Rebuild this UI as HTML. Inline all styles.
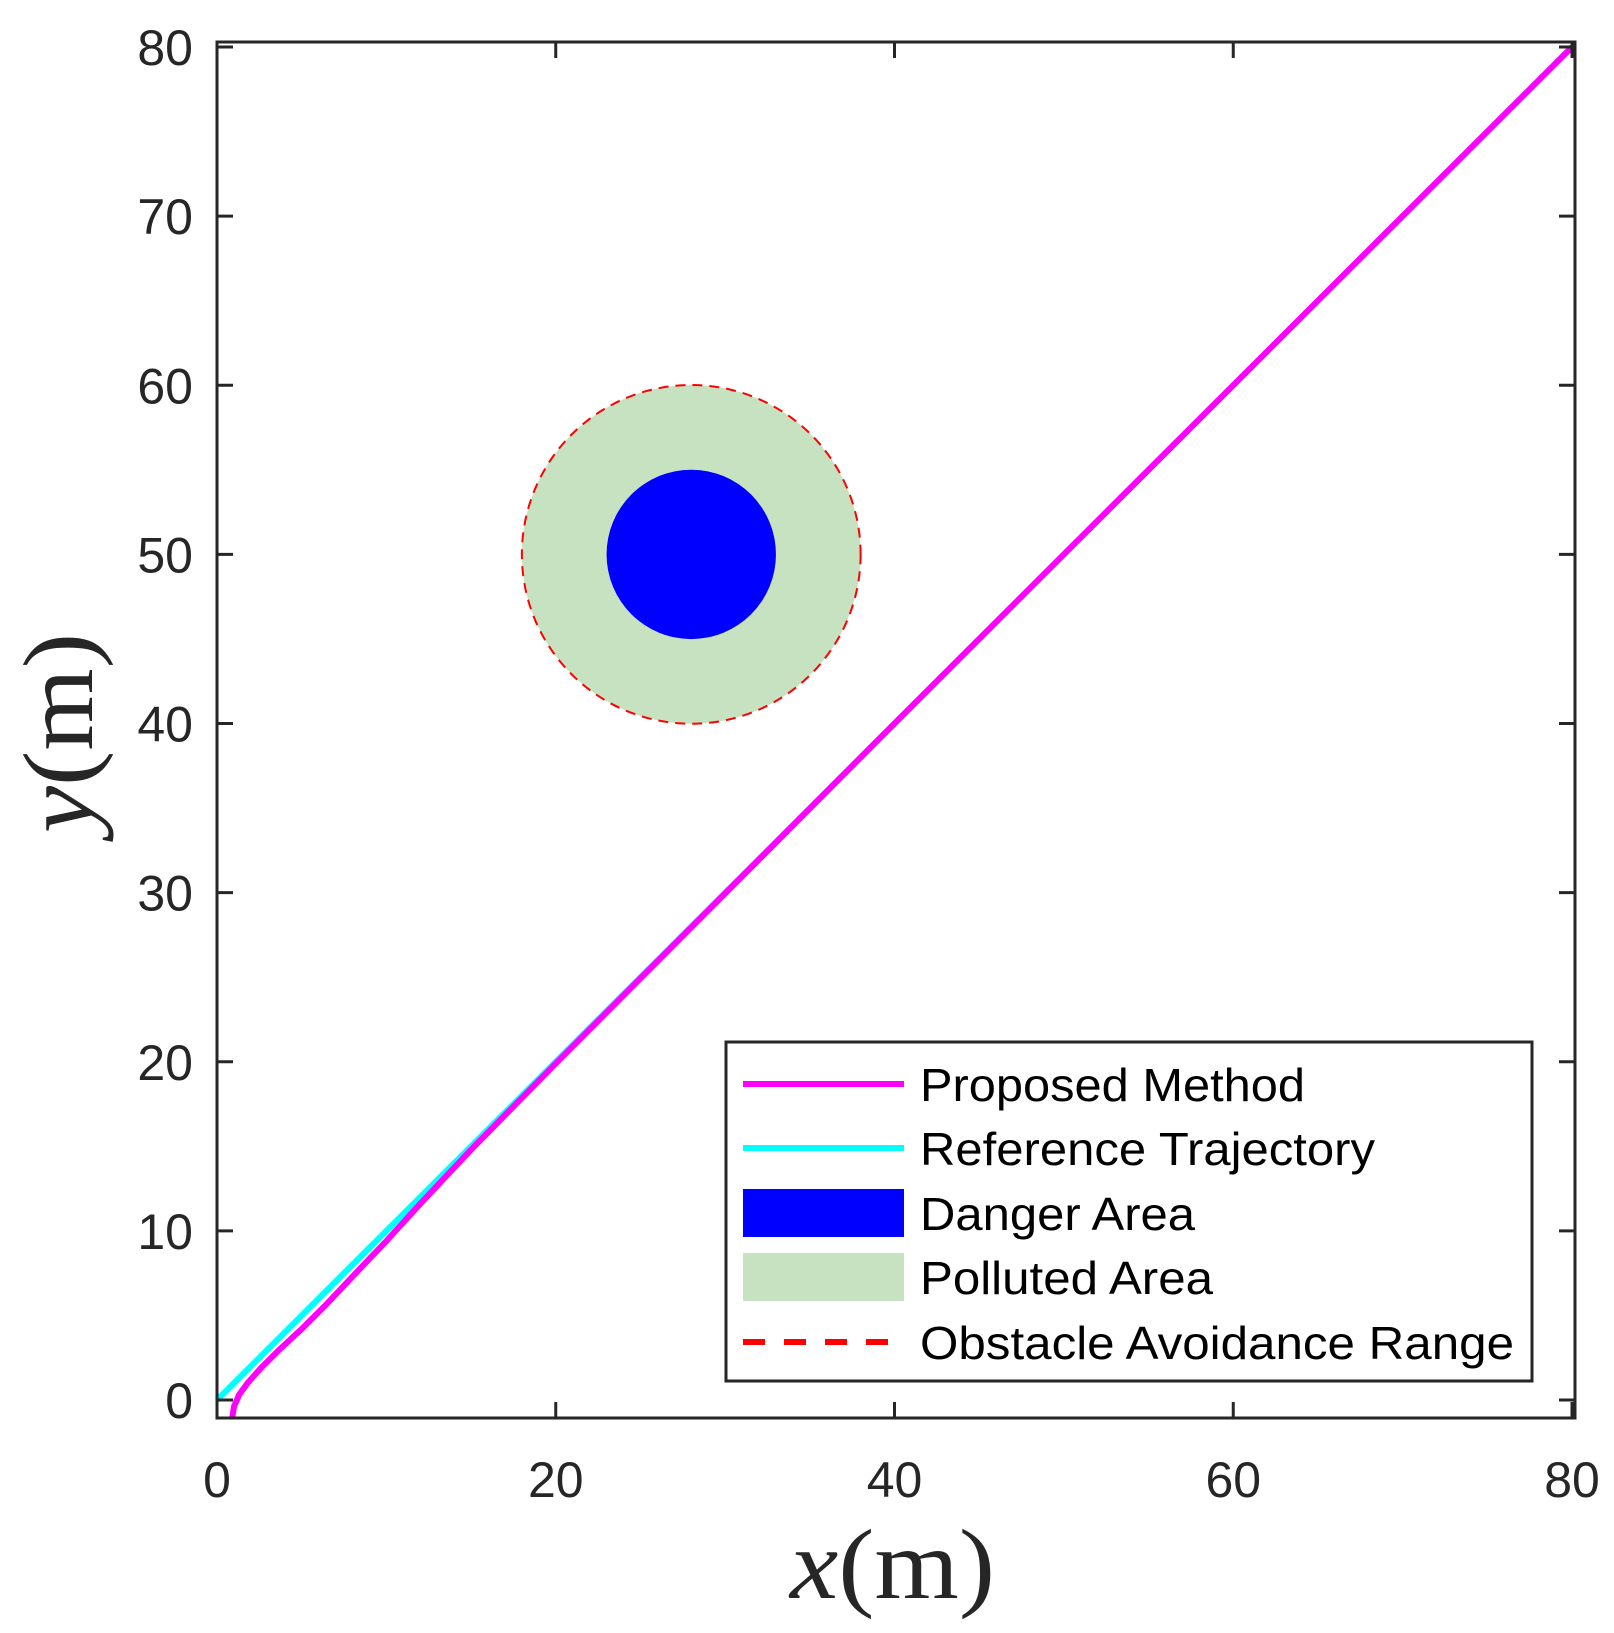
<!DOCTYPE html>
<html><head><meta charset="utf-8"><style>
html,body{margin:0;padding:0;background:#fff;}
svg{display:block;}
text{font-family:"Liberation Sans",sans-serif;fill:#262626;}
text.serif{font-family:"Liberation Serif","DejaVu Serif",serif;}
</style></head><body>
<svg id="chart" width="1614" height="1633" viewBox="0 0 1614 1633" xmlns="http://www.w3.org/2000/svg">
<g id="plot"></g>
</svg>
<script>
const xTicks=[0,20,40,60,80];
const yTicks=[0,10,20,30,40,50,60,70,80];
const refX=[0,80];
const refY=[0,80];
const propX=[0.9,1.0,1.3,1.8,2.6,3.6,5,6.5,8,10,12,15,20,40,80];
const propY=[-1.05,-0.4,0.3,1.0,1.9,2.9,4.2,5.7,7.3,9.4,11.6,14.8,19.9,40,80];
const obsCenter=[28,50];
const dangerR=[5];
const pollutedR=[10];
const avoidR=[10];
const legendLabels=["Proposed Method","Reference Trajectory","Danger Area","Polluted Area","Obstacle Avoidance Range"];

const NS="http://www.w3.org/2000/svg";
const X0=217,XS=(1572-217)/80,Y0=1400,YS=(1400-47)/80;
const sx=v=>X0+v*XS, sy=v=>Y0-v*YS;
const L=217,R=1575,T=42,B=1418;
const g=document.getElementById('plot');
function mk(tag,attrs,parent){const e=document.createElementNS(NS,tag);for(const k in attrs)e.setAttribute(k,attrs[k]);(parent||g).appendChild(e);return e;}

let e=mk('circle',{cx:sx(obsCenter[0]),cy:sy(obsCenter[1]),r:pollutedR[0]*XS,fill:'#c7e2c0'});


e=mk('circle',{cx:sx(obsCenter[0]),cy:sy(obsCenter[1]),r:dangerR[0]*XS,fill:'#0000ff'});


e=mk('circle',{cx:sx(obsCenter[0]),cy:sy(obsCenter[1]),r:avoidR[0]*XS,fill:'none',stroke:'#ff0000','stroke-width':2,'stroke-dasharray':'10 7'});



e=mk('polyline',{points:refX.map((v,i)=>sx(v)+','+sy(refY[i])).join(' '),fill:'none',stroke:'#00ffff','stroke-width':6});


e=mk('polyline',{points:propX.map((v,i)=>sx(v)+','+sy(propY[i])).join(' '),fill:'none',stroke:'#ff00ff','stroke-width':6,'stroke-linejoin':'round'});



e=mk('rect',{x:L,y:T,width:R-L,height:B-T,fill:'none',stroke:'#262626','stroke-width':3});


xTicks.forEach(v=>{
  const x=sx(v);
  mk('line',{x1:x,y1:B,x2:x,y2:B-16,stroke:'#262626','stroke-width':3});
  mk('line',{x1:x,y1:T,x2:x,y2:T+16,stroke:'#262626','stroke-width':3});
  const t=mk('text',{x:x,y:1497,'text-anchor':'middle','font-size':50});
  t.textContent=v;
  
  
});
yTicks.forEach(v=>{
  const y=sy(v);
  mk('line',{x1:L,y1:y,x2:L+16,y2:y,stroke:'#262626','stroke-width':3});
  mk('line',{x1:R,y1:y,x2:R-16,y2:y,stroke:'#262626','stroke-width':3});
  const t=mk('text',{x:193,y:y+18,'text-anchor':'end','font-size':50});
  t.textContent=v;
  
  
});

e=mk('text',{x:790,y:1598,'font-size':100,textLength:205,lengthAdjust:'spacingAndGlyphs','class':'serif'});
e.innerHTML='<tspan font-style="italic">x</tspan>(m)';


e=mk('text',{x:0,y:0,'font-size':100,textLength:200,lengthAdjust:'spacingAndGlyphs','class':'serif',transform:'translate(92,833) rotate(-90)'});
e.innerHTML='<tspan font-style="italic">y</tspan>(m)';



const lg=mk('g',{});


mk('rect',{x:726,y:1042,width:806,height:339,fill:'#fff',stroke:'#262626','stroke-width':3},lg);
const rowY=[1084,1148,1213,1277,1342];
const widths=[385,455,275,293,594];
legendLabels.forEach((lab,i)=>{
  const y=rowY[i];
  if(i===0) mk('line',{x1:743,y1:y,x2:904,y2:y,stroke:'#ff00ff','stroke-width':6},lg);
  if(i===1) mk('line',{x1:743,y1:y,x2:904,y2:y,stroke:'#00ffff','stroke-width':6},lg);
  if(i===2) mk('rect',{x:743,y:y-24,width:161,height:48,fill:'#0000ff'},lg);
  if(i===3) mk('rect',{x:743,y:y-24,width:161,height:48,fill:'#c7e2c0'},lg);
  if(i===4) mk('line',{x1:743,y1:y,x2:897,y2:y,stroke:'#ff0000','stroke-width':6,'stroke-dasharray':'22 19'},lg);
  const t=mk('text',{x:920,y:y+17,'font-size':46,textLength:widths[i],lengthAdjust:'spacingAndGlyphs'},lg);
  t.style.fill='#000';
  t.textContent=lab;
  
  
});
</script>
</body></html>
